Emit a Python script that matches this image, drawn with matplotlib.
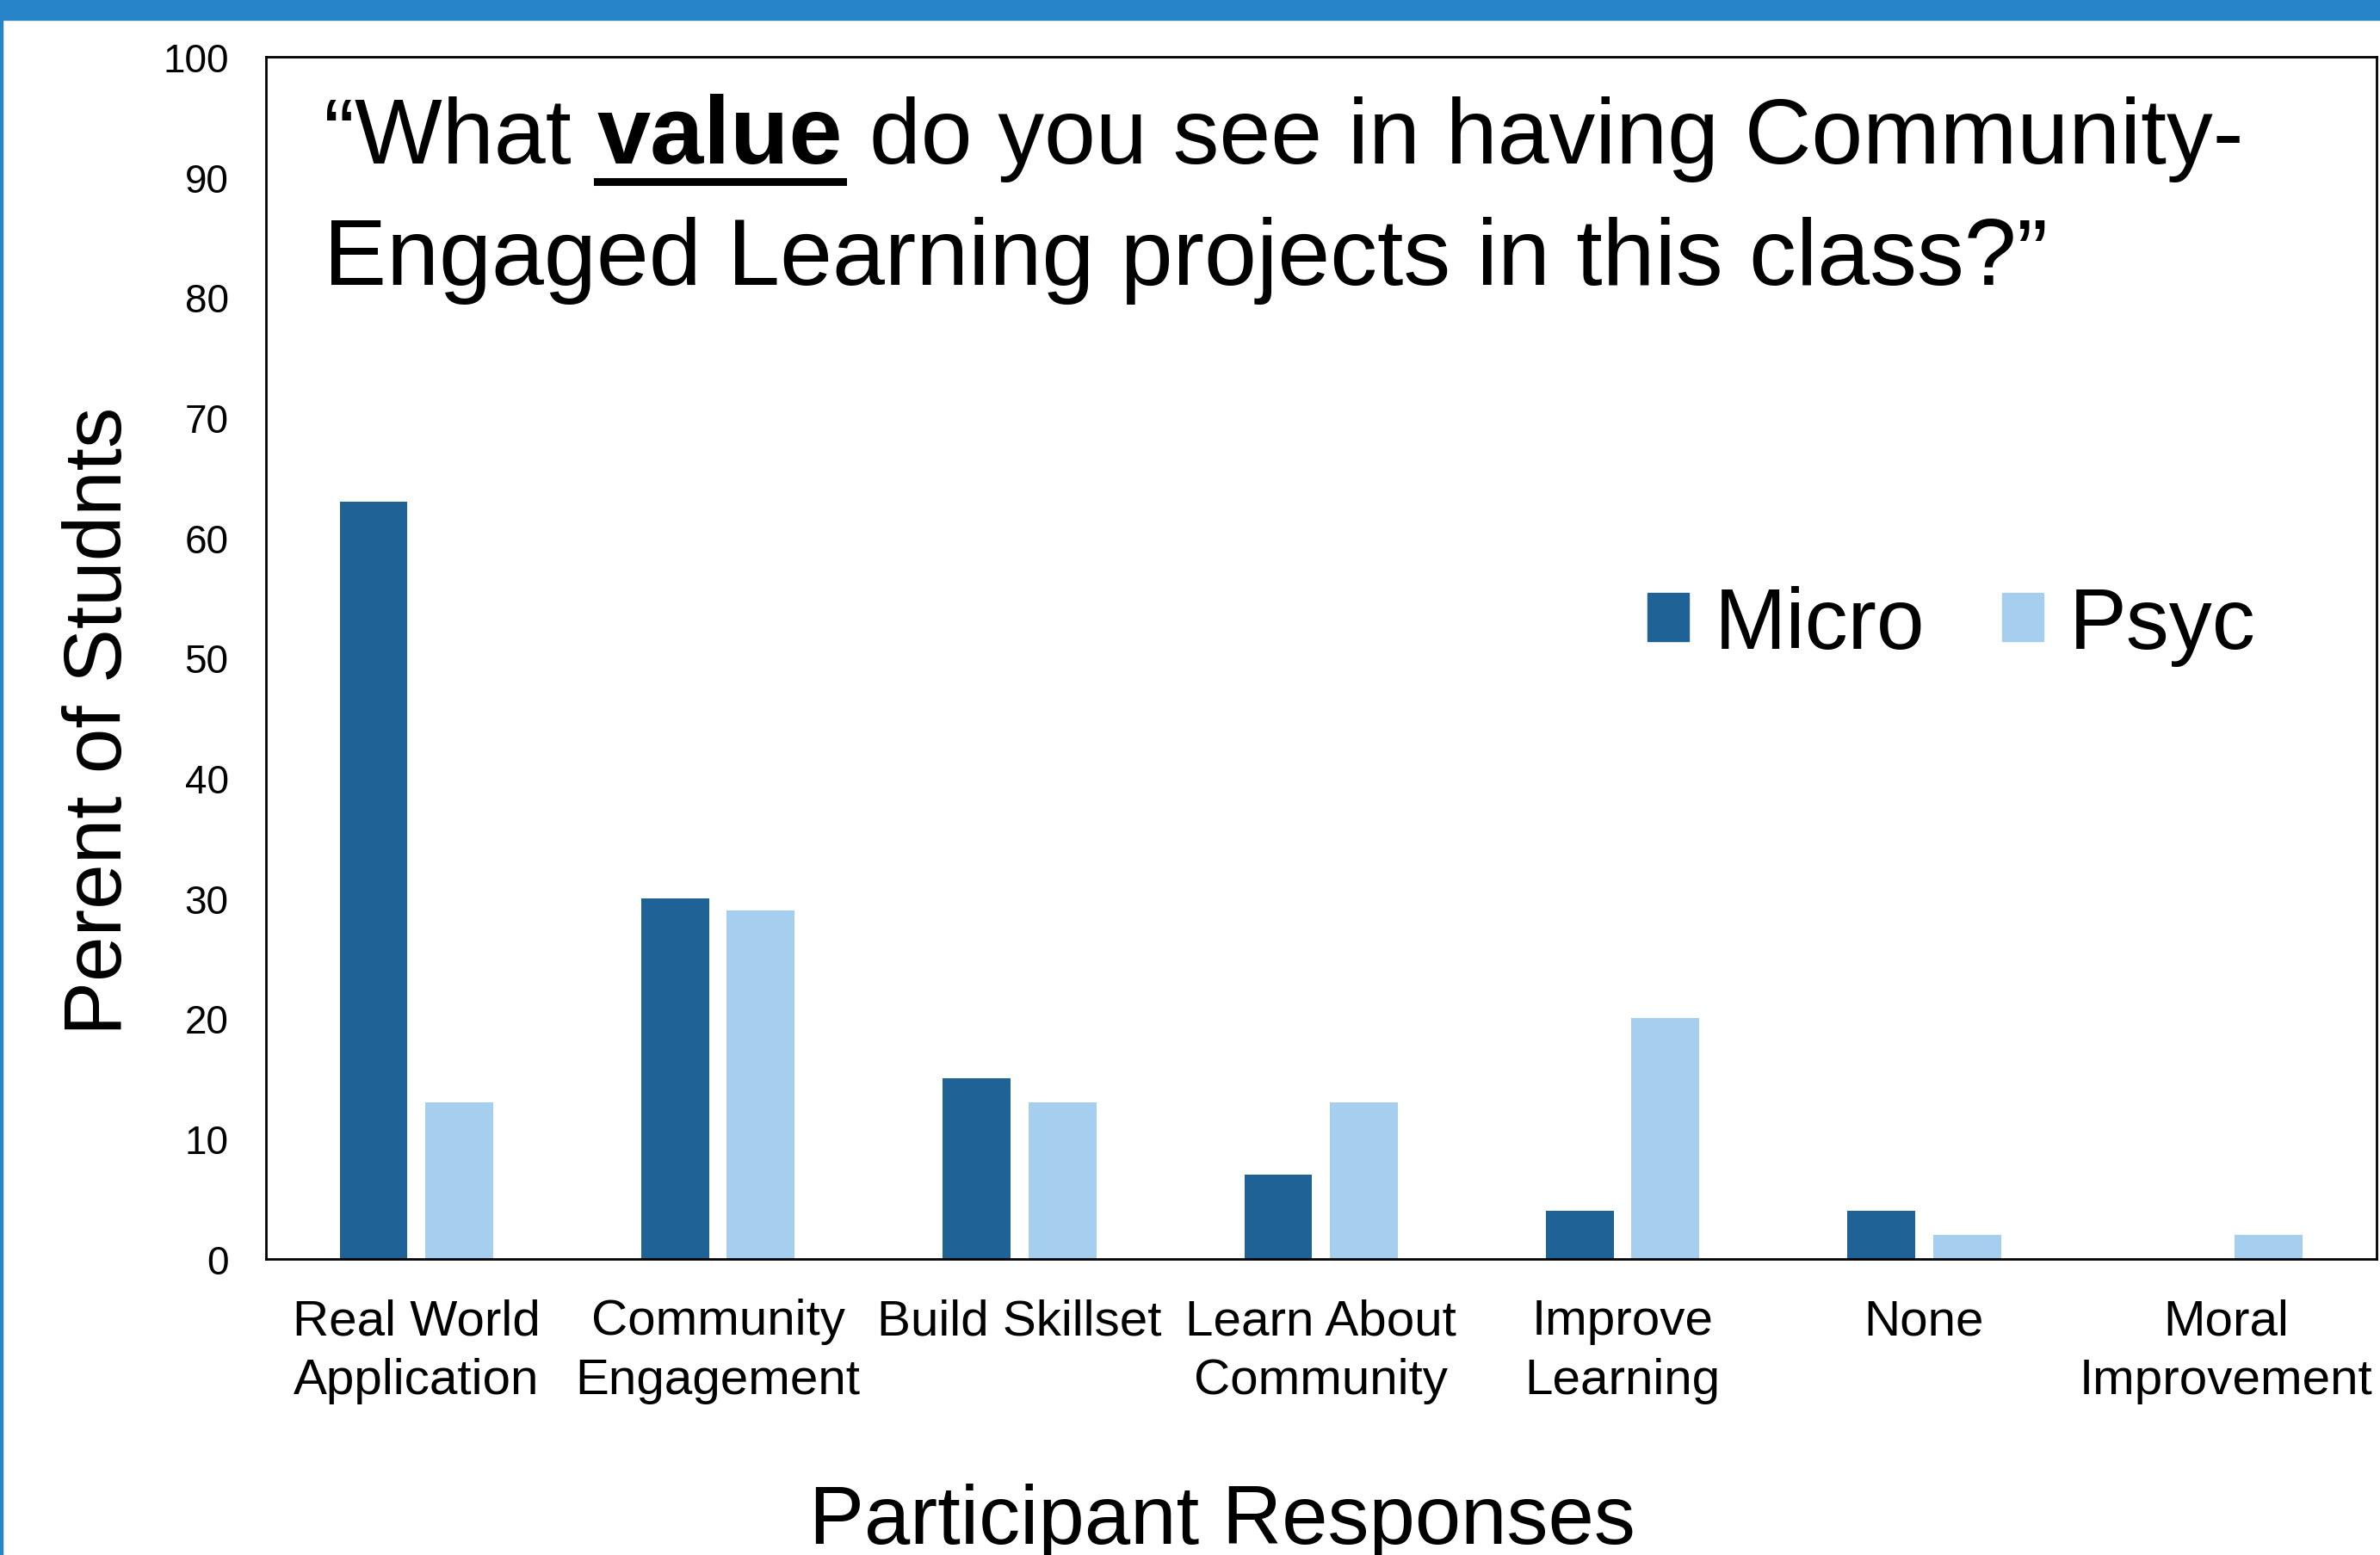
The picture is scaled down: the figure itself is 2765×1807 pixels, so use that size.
import matplotlib
matplotlib.use("Agg")
import matplotlib.pyplot as plt
import numpy as np
from matplotlib.patches import Rectangle
from matplotlib.transforms import IdentityTransform
from matplotlib.lines import Line2D

plt.rcParams['font.family'] = ['Liberation Sans', 'DejaVu Sans']

categories = ["Real World\nApplication", "Community\nEngagement", "Build Skillset",
              "Learn About\nCommunity", "Improve\nLearning", "None", "Moral\nImprovement"]
micro = [63, 30, 15, 7, 4, 4, 0]
psyc = [13, 29, 13, 13, 20, 2, 2]
series_names = ["Micro", "Psyc"]
yticks = list(range(0, 101, 10))

C_MICRO = "#1F6396"
C_PSYC = "#A6CEEE"
C_BAND = "#2784C7"

W, H = 2765, 1808
fig = plt.figure(figsize=(W / 100, H / 100), dpi=100)
fig.patch.set_facecolor("white")

# decorative frame
fig.patches.append(Rectangle((0, H - 24), W, 24, transform=IdentityTransform(),
                             color=C_BAND, zorder=0))
fig.patches.append(Rectangle((0, 0), 3, H, transform=IdentityTransform(),
                             color=C_BAND, zorder=0))

ax = fig.add_axes([308.6 / W, 1 - 1463.6 / H, (2761 - 308.6) / W, (1463.6 - 67) / H])
x = np.arange(len(categories))
bw = 0.225
off = 0.142
ax.bar(x - off, micro, bw, color=C_MICRO, label=series_names[0])
ax.bar(x + off, psyc, bw, color=C_PSYC, label=series_names[1])
ax.set_xlim(-0.5, len(categories) - 0.5)
ax.set_ylim(0, 100)
ax.set_yticks(yticks)
ax.set_xticks(x)
ax.set_xticklabels(categories, fontsize=42, linespacing=1.34)
ax.tick_params(axis='y', length=0, pad=31, labelsize=33)
ax.tick_params(axis='x', length=0, pad=33)
for s in ax.spines.values():
    s.set_linewidth(2)
    s.set_color("black")

# legend
handles = [Rectangle((0, 0), 1, 1, color=C_MICRO), Rectangle((0, 0), 1, 1, color=C_PSYC)]
ax.legend(handles, series_names, loc='center left', bbox_to_anchor=(0.6545, 0.527),
          ncol=2, frameon=False, fontsize=72, handlelength=0.48, handleheight=0.48,
          handletextpad=0.3, columnspacing=0.9, borderpad=0, borderaxespad=0)

# axis labels
fig.text(141, H - 837.6, "Perent of Studnts", rotation=90, rotation_mode='anchor',
         ha='center', va='baseline', fontsize=68, transform=IdentityTransform())
fig.text(1420, H - 1794, "Participant Responses", ha='center', va='baseline',
         fontsize=69, transform=IdentityTransform())

# title with bold underlined word
TS = 78.8
fig.canvas.draw()
r = fig.canvas.get_renderer()

def width(s, weight='normal', size=TS):
    t = fig.text(0, 0, s, fontsize=size, weight=weight, transform=IdentityTransform())
    w = t.get_window_extent(r).width
    t.remove()
    return w

x0 = 376
y1 = H - 190
y2 = H - 331
parts = [("\u201cWhat", 'normal', 77.6), ("value", 'bold', 80.5),
         ("do you see in having Community-", 'normal', 77.4)]
cx = x0
for s, wt, sz in parts:
    t = fig.text(cx, y1, s, fontsize=sz, weight=wt, ha='left', va='baseline',
                 transform=IdentityTransform())
    w = t.get_window_extent(r).width
    if wt == 'bold':
        fig.lines.append(Line2D([cx, cx + w], [y1 - 22, y1 - 22], color='black',
                                linewidth=6.5, transform=IdentityTransform()))
    cx += w + (width("a a", size=sz) - width("aa", size=sz))
fig.text(x0, y2, "Engaged Learning projects in this class?\u201d", fontsize=TS,
         ha='left', va='baseline', transform=IdentityTransform())

fig.savefig("out.png", dpi=100)
